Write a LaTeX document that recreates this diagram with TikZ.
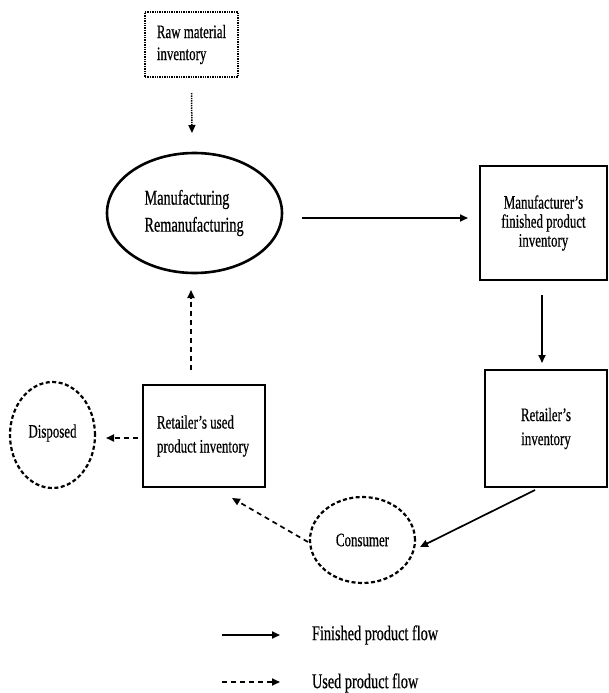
\documentclass[tikz,border=0pt]{standalone}
\usepackage{fontspec}
\setmainfont{Liberation Serif}[FakeStretch=0.68,FakeBold=0.5]
\usetikzlibrary{arrows.meta,shapes.geometric}
\tikzset{
  every node/.style={inner sep=0pt, outer sep=0pt},
  base/.style={font=\fontsize{19}{22}\selectfont},
  thickbox/.style={base, draw, line width=2.8pt, rectangle, align=center},
  dotbox/.style={base, draw, line width=2.4pt, dash pattern=on 1.4pt off 1pt, rectangle, align=left},
  bigell/.style={draw, line width=2.6pt, ellipse, align=left, font=\fontsize{21}{27}\selectfont},
  dashell/.style={base, draw, line width=2.2pt, dash pattern=on 4pt off 2.5pt, ellipse},
  tip/.style={-{Triangle[length=8pt,width=7pt]}},
  solidflow/.style={tip, line width=1.7pt},
  usedflow/.style={tip, line width=1.7pt, dash pattern=on 5pt off 4pt},
  dotflow/.style={tip, line width=1.5pt, dash pattern=on 1.4pt off 1pt},
  legtext/.style={anchor=west, font=\fontsize{21}{24}\selectfont}
}
\begin{document}
\begin{tikzpicture}[x=1pt,y=-1pt]
\useasboundingbox (0,0) rectangle (608,693);
% nodes
\node[dotbox, minimum width=93pt, minimum height=65pt] (raw) at (191.5,44.5)
  {Raw material\\inventory};
\node[bigell, minimum width=175pt, minimum height=120pt] (mfg) at (194.5,213)
  {\raisebox{5pt}{\parbox{100pt}{\raggedright Manufacturing\\Remanufacturing}}};
\node[thickbox, minimum width=127pt, minimum height=114pt, font=\fontsize{19}{19}\selectfont] (mfi) at (543.5,223)
  {\raisebox{3pt}{\parbox{120pt}{\centering Manufacturer's\\finished product\\inventory}}};
\node[thickbox, minimum width=122pt, minimum height=117pt, font=\fontsize{19}{24}\selectfont] (ri) at (546,428.5)
  {Retailer's\\inventory};
\node[thickbox, minimum width=122pt, minimum height=102pt, font=\fontsize{19}{24}\selectfont] (used) at (204,436)
  {\raisebox{6pt}{\parbox{94pt}{\raggedright Retailer's used\\product inventory}}};
\node[dashell, minimum width=85pt, minimum height=106pt] (disp) at (52.5,435)
  {\raisebox{8pt}{Disposed}};
\node[dashell, minimum width=105pt, minimum height=86pt] (con) at (362.5,540)
  {Consumer};
% connectors
\draw[dotflow] ([shift={(0,16)}]raw.south) -- ([shift={(-2.5,-20)}]mfg.north);
\draw[solidflow] ([shift={(20,5)}]mfg.east) -- ([shift={(-12,-5)}]mfi.west);
\draw[solidflow] ([shift={(-1.5,15)}]mfi.south) -- ([shift={(-4,-7)}]ri.north);
\draw[solidflow] ([shift={(-11,3)}]ri.south) -- ([shift={(5,7)}]con.east);
\draw[usedflow] ([shift={(-2,2)}]con.west) -- ([shift={(28,11)}]used.south);
\draw[usedflow] ([shift={(-5,2)}]used.west) -- ([shift={(11,3)}]disp.east);
\draw[usedflow] ([shift={(-13,-15)}]used.north) -- ([shift={(-3.5,17)}]mfg.south);
% legend
\coordinate (l1a) at (222,635);
\coordinate (l1b) at (280,635);
\coordinate (l2a) at (222,682);
\coordinate (l2b) at (280,682);
\draw[solidflow] (l1a) -- (l1b);
\draw[usedflow] (l2a) -- (l2b);
\node[legtext] (lt1) at (312,635) {Finished product flow};
\node[legtext] (lt2) at (312,683) {Used product flow};
\end{tikzpicture}
\end{document}
